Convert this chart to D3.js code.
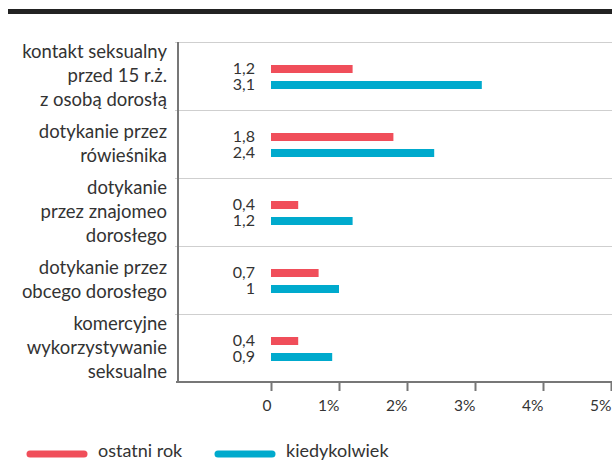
<!DOCTYPE html>
<html>
<head>
<meta charset="utf-8">
<script src="https://d3js.org/d3.v7.min.js"></script>
<style>
  body { margin: 0; background: #fff; }
  svg { display: block; font-family: Lato, "Open Sans", sans-serif; }
</style>
</head>
<body>
<svg id="chart" width="612" height="462"></svg>
<script>
// data
const categories = [
  ["kontakt seksualny", "przed 15 r.ż.", "z osobą dorosłą"],
  ["dotykanie przez", "rówieśnika"],
  ["dotykanie", "przez znajomeo", "dorosłego"],
  ["dotykanie przez", "obcego dorosłego"],
  ["komercyjne", "wykorzystywanie", "seksualne"]
];
const lastYear = [1.2, 1.8, 0.4, 0.7, 0.4];
const ever = [3.1, 2.4, 1.2, 1, 0.9];
const seriesNames = ["ostatni rok", "kiedykolwiek"];
const xTicks = [0, 1, 2, 3, 4, 5];

const red = "#f04e5a", blue = "#00aacd", textCol = "#333";
const svg = d3.select("#chart");

// top rule
svg.append("rect").attr("x", 8).attr("y", 9).attr("width", 604).attr("height", 5).attr("fill", "#222");

const axisX = 178, plotTop = 42, plotBottom = 382;
const x = d3.scaleLinear().domain([0, 5]).range([271, 611]);
const y = d3.scaleBand().domain(d3.range(categories.length)).range([plotTop, plotBottom]);

// gridlines at band edges
const edges = d3.range(categories.length).map(i => y(i));
svg.selectAll(".grid").data(edges).enter().append("line")
  .attr("x1", axisX - 3).attr("x2", 612)
  .attr("y1", d => d + 0.5).attr("y2", d => d + 0.5)
  .attr("stroke", "#cfcfcf").attr("stroke-width", 1);

// y axis line
svg.append("line").attr("x1", axisX).attr("x2", axisX).attr("y1", plotTop).attr("y2", plotBottom)
  .attr("stroke", "#777").attr("stroke-width", 2);

// x axis
const xAxis = svg.append("g").attr("transform", `translate(0,${plotBottom})`)
  .call(d3.axisBottom(x).tickValues(xTicks).tickSize(9)
    .tickFormat(d => d === 0 ? "0" : d + "%"));
xAxis.select(".domain").remove();
xAxis.selectAll(".tick line").attr("stroke", "#777").attr("stroke-width", 2);
xAxis.selectAll(".tick text").attr("text-anchor", "end").attr("dx", 0).attr("y", 18)
  .attr("fill", textCol).style("font-size", "15.5px").style("font-family", "Lato");
svg.append("line").attr("x1", axisX - 2).attr("x2", 612).attr("y1", plotBottom).attr("y2", plotBottom)
  .attr("stroke", "#777").attr("stroke-width", 2);

// category labels
categories.forEach((lines, i) => {
  const cy = y(i) + y.bandwidth() / 2;
  const lh = 24;
  const t = svg.append("text").attr("text-anchor", "end").attr("fill", textCol)
    .style("font-size", "18.5px");
  lines.forEach((l, j) => {
    t.append("tspan").attr("x", 167)
      .attr("y", cy + (j - (lines.length - 1) / 2) * lh + 6).text(l);
  });
});

// bars
const series = [lastYear, ever];
const colors = [red, blue];
series.forEach((vals, s) => {
  const off = s === 0 ? -11 : 5;
  svg.selectAll(".bar" + s).data(vals).enter().append("rect")
    .attr("x", x(0)).attr("width", d => x(d) - x(0))
    .attr("y", (d, i) => y(i) + y.bandwidth() / 2 + off).attr("height", 8)
    .attr("fill", colors[s]);
  svg.selectAll(".val" + s).data(vals).enter().append("text")
    .attr("x", 255).attr("y", (d, i) => y(i) + y.bandwidth() / 2 + off + 9)
    .attr("text-anchor", "end").attr("fill", textCol).style("font-size", "16px")
    .text(d => String(d).replace(".", ","));
});

// legend
const legX = [27, 215];
seriesNames.forEach((n, i) => {
  svg.append("line").attr("x1", legX[i] + 3).attr("x2", legX[i] + 57)
    .attr("y1", 454).attr("y2", 454).attr("stroke", colors[i])
    .attr("stroke-width", 7).attr("stroke-linecap", "round");
  svg.append("text").attr("x", legX[i] + 71).attr("y", 457).attr("fill", textCol)
    .style("font-size", "18px").text(n);
});
</script>
</body>
</html>
